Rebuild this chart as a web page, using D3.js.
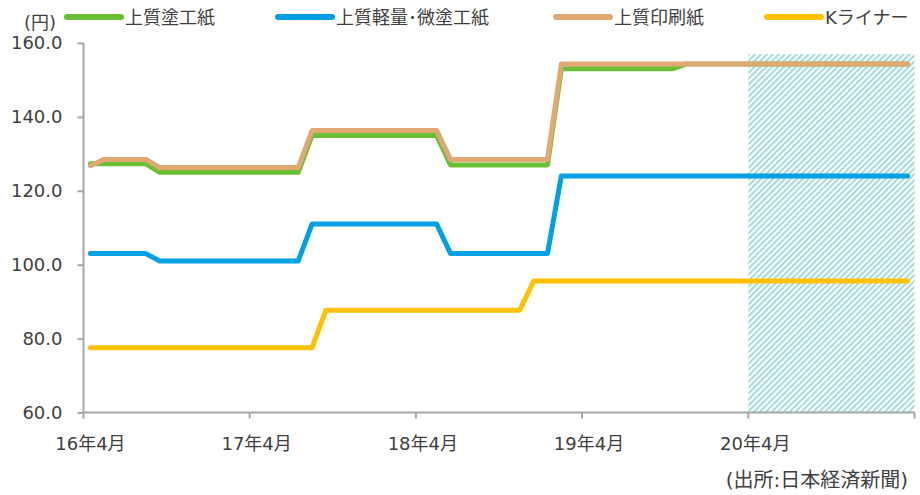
<!DOCTYPE html>
<html>
<head>
<meta charset="utf-8">
<script src="https://cdn.jsdelivr.net/npm/d3@7"></script>
<style>
  html, body { margin: 0; padding: 0; background: #fff; }
  svg { display: block; }
  text { font-family: "DejaVu Sans", "Noto Sans CJK JP", sans-serif; fill: #404040; }
</style>
</head>
<body>
<svg id="chart" width="920" height="495"></svg>
<script>
// ---- data ----
const years = ["16", "17", "18", "19", "20"];
const months = [4, 5, 6, 7, 8, 9, 10, 11, 12, 1, 2, 3];
const categories = [];
years.forEach(y => months.forEach(m => categories.push(y + "-" + m)));
const tickLabels = ["16年4月", "17年4月", "18年4月", "19年4月", "20年4月"];
const tickIndex = [0, 12, 24, 36, 48];

const seriesNames = ["上質塗工紙", "上質軽量･微塗工紙", "上質印刷紙", "Kライナー"];

const coated = [
  127.3, 127.3, 127.3, 127.3, 127.3,
  125.0, 125.0, 125.0, 125.0, 125.0, 125.0, 125.0, 125.0, 125.0, 125.0, 125.0,
  135.0, 135.0, 135.0, 135.0, 135.0, 135.0, 135.0, 135.0, 135.0, 135.0,
  127.0, 127.0, 127.0, 127.0, 127.0, 127.0, 127.0, 127.0,
  153.0, 153.0, 153.0, 153.0, 153.0, 153.0, 153.0, 153.0, 153.0,
  154.3, 154.3, 154.3, 154.3, 154.3, 154.3, 154.3, 154.3, 154.3, 154.3, 154.3, 154.3, 154.3, 154.3, 154.3, 154.3, 154.3
];
const lightCoated = [
  103.0, 103.0, 103.0, 103.0, 103.0,
  101.0, 101.0, 101.0, 101.0, 101.0, 101.0, 101.0, 101.0, 101.0, 101.0, 101.0,
  111.0, 111.0, 111.0, 111.0, 111.0, 111.0, 111.0, 111.0, 111.0, 111.0,
  103.0, 103.0, 103.0, 103.0, 103.0, 103.0, 103.0, 103.0,
  124.0, 124.0, 124.0, 124.0, 124.0, 124.0, 124.0, 124.0, 124.0, 124.0, 124.0, 124.0, 124.0,
  124.0, 124.0, 124.0, 124.0, 124.0, 124.0, 124.0, 124.0, 124.0, 124.0, 124.0, 124.0, 124.0
];
const printing = [
  126.8,
  128.5, 128.5, 128.5, 128.5,
  126.3, 126.3, 126.3, 126.3, 126.3, 126.3, 126.3, 126.3, 126.3, 126.3, 126.3,
  136.3, 136.3, 136.3, 136.3, 136.3, 136.3, 136.3, 136.3, 136.3, 136.3,
  128.5, 128.5, 128.5, 128.5, 128.5, 128.5, 128.5, 128.5,
  154.3, 154.3, 154.3, 154.3, 154.3, 154.3, 154.3, 154.3, 154.3, 154.3, 154.3, 154.3, 154.3,
  154.3, 154.3, 154.3, 154.3, 154.3, 154.3, 154.3, 154.3, 154.3, 154.3, 154.3, 154.3, 154.3
];
const kLiner = [
  77.5, 77.5, 77.5, 77.5, 77.5, 77.5, 77.5, 77.5, 77.5, 77.5, 77.5, 77.5, 77.5, 77.5, 77.5, 77.5, 77.5,
  87.7, 87.7, 87.7, 87.7, 87.7, 87.7, 87.7, 87.7, 87.7, 87.7, 87.7, 87.7, 87.7, 87.7, 87.7,
  95.6, 95.6, 95.6, 95.6, 95.6, 95.6, 95.6, 95.6, 95.6, 95.6, 95.6, 95.6, 95.6, 95.6,
  95.6, 95.6, 95.6, 95.6, 95.6, 95.6, 95.6, 95.6, 95.6, 95.6, 95.6, 95.6, 95.6, 95.6
];
const yTicks = [60, 80, 100, 120, 140, 160];
const forecastStartIndex = 48;
const forecastTop = 157;

// ---- styles ----
const colors = ["#6abf35", "#00a0e6", "#e0a974", "#ffc000"];
const axisColor = "#a6a6a6";

const svg = d3.select("#chart");

const x = d3.scaleBand().domain(categories).range([83.5, 914.5]).padding(0);
const y = d3.scaleLinear().domain([60, 160]).range([412.5, 43]);
const cx = c => x(c) + x.bandwidth() / 2;

// hatch pattern
const defs = svg.append("defs");
const pat = defs.append("pattern")
  .attr("id", "hatch")
  .attr("patternUnits", "userSpaceOnUse")
  .attr("width", 4.2).attr("height", 4.2)
  .attr("patternTransform", "rotate(45)");
pat.append("rect").attr("x", 0).attr("y", 0).attr("width", 2.2).attr("height", 4.2).attr("fill", "#a8dcdc");

svg.append("rect")
  .attr("x", x(categories[forecastStartIndex]))
  .attr("y", y(forecastTop))
  .attr("width", 914.5 - x(categories[forecastStartIndex]))
  .attr("height", y(60) - y(forecastTop))
  .attr("fill", "url(#hatch)");

// y axis
const yAxis = svg.append("g").attr("transform", "translate(83.5,0)")
  .call(d3.axisLeft(y).tickValues(yTicks).tickSize(6).tickFormat(d3.format(".1f")));
yAxis.select(".domain").attr("stroke", axisColor).attr("stroke-width", 2).attr("d", `M0,${y(160)}V${y(60)}`);
yAxis.selectAll(".tick line").attr("stroke", axisColor).attr("stroke-width", 2);
yAxis.selectAll(".tick text").attr("x", -21).attr("font-size", 18).attr("fill", "#404040")
  .style("font-family", "\"DejaVu Sans\", sans-serif");

// x axis (ticks between categories)
const xg = svg.append("g");
xg.append("line").attr("x1", 83.5).attr("x2", 914.5).attr("y1", y(60)).attr("y2", y(60))
  .attr("stroke", axisColor).attr("stroke-width", 2);
const tickPos = tickIndex.map(i => x(categories[i])).concat([914.5]);
xg.selectAll("line.tk").data(tickPos).join("line").attr("class", "tk")
  .attr("x1", d => d).attr("x2", d => d).attr("y1", y(60)).attr("y2", y(60) + 6)
  .attr("stroke", axisColor).attr("stroke-width", 2);
xg.selectAll("text.lbl").data(tickIndex).join("text").attr("class", "lbl")
  .attr("x", i => cx(categories[i]))
  .attr("y", 450)
  .attr("text-anchor", "middle")
  .attr("font-size", 18)
  .text((i, k) => tickLabels[k]);

// lines
const seriesData = [coated, lightCoated, printing, kLiner];
const line = d3.line().x((d, i) => cx(categories[i])).y(d => y(d));
seriesData.forEach((s, k) => {
  svg.append("path").datum(s)
    .attr("d", line)
    .attr("fill", "none")
    .attr("stroke", colors[k])
    .attr("stroke-width", 5)
    .attr("stroke-linejoin", "round")
    .attr("stroke-linecap", "round");
});

// legend
const legendX = [67, 278, 556, 767];
seriesNames.forEach((n, k) => {
  svg.append("line").attr("x1", legendX[k]).attr("x2", legendX[k] + 54).attr("y1", 17).attr("y2", 17)
    .attr("stroke", colors[k]).attr("stroke-width", 6).attr("stroke-linecap", "round");
  svg.append("text").attr("x", legendX[k] + 58).attr("y", 24).attr("font-size", 18).text(n);
});

// unit label
svg.append("text").attr("x", 40).attr("y", 29).attr("text-anchor", "middle").attr("font-size", 18).text("(円)");

// source
svg.append("text").attr("x", 908).attr("y", 487).attr("text-anchor", "end").attr("font-size", 20).text("(出所:日本経済新聞)");
</script>
</body>
</html>
